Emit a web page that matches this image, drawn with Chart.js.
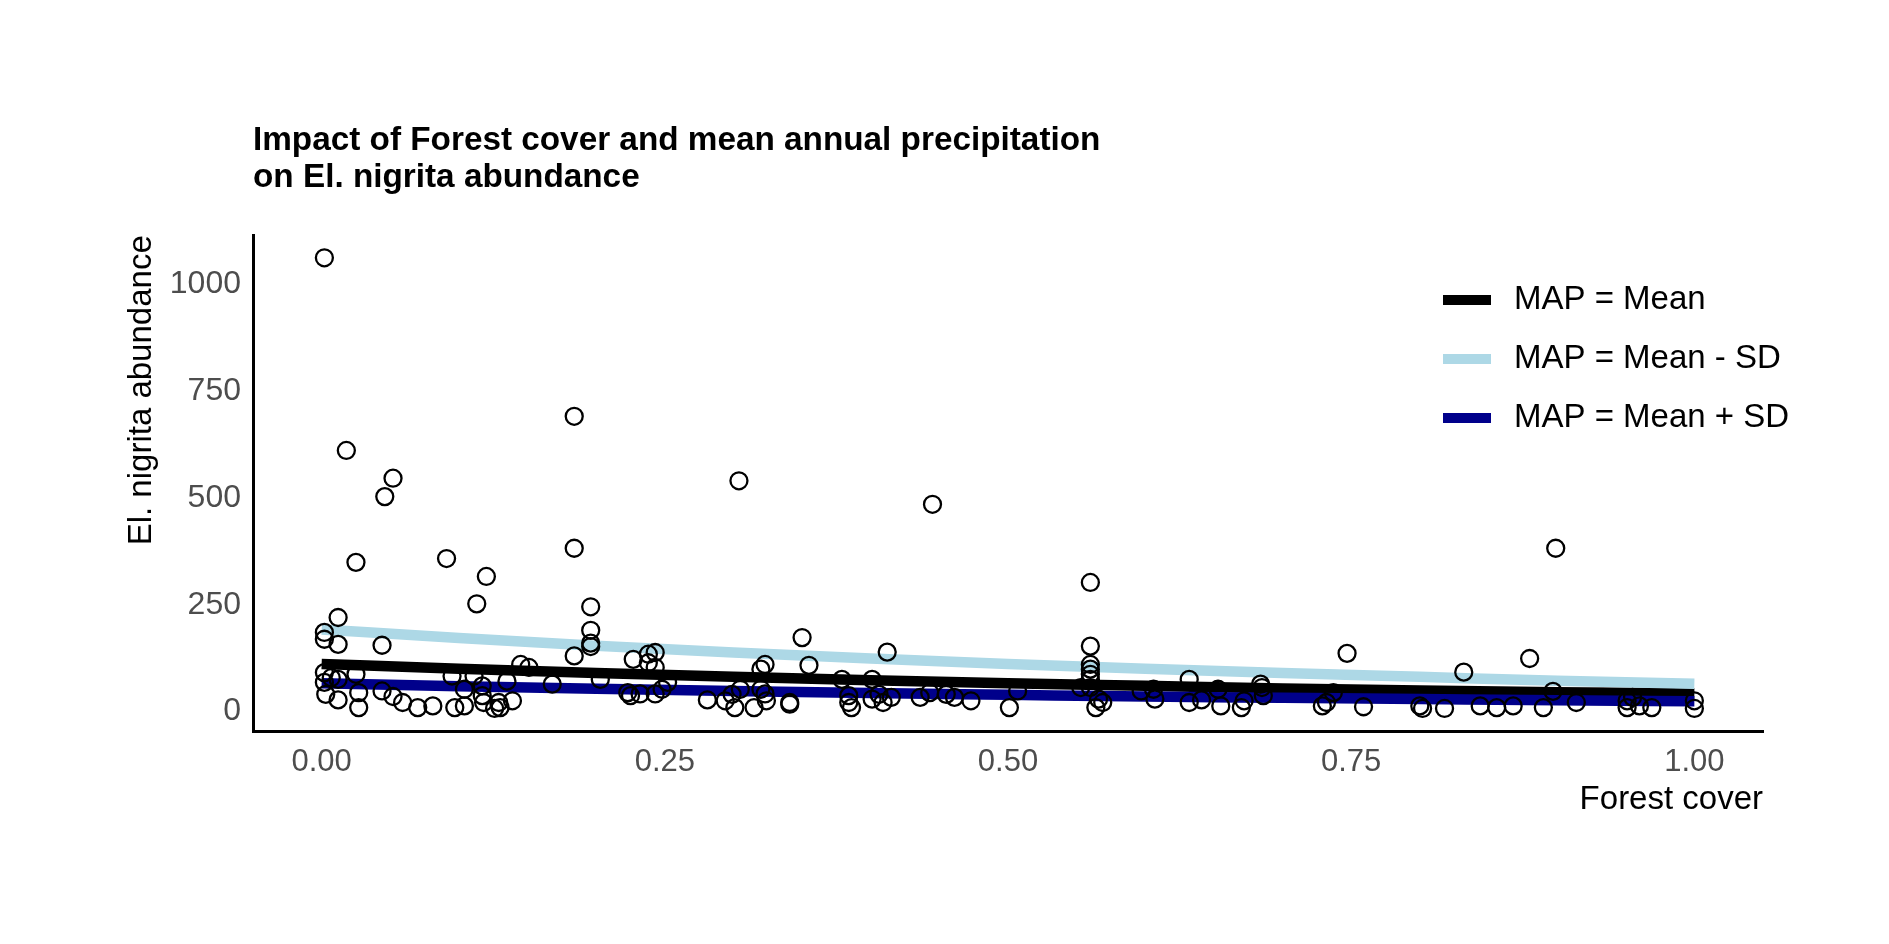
<!DOCTYPE html>
<html>
<head>
<meta charset="utf-8">
<script src="https://cdn.jsdelivr.net/npm/chart.js@4.4.0/dist/chart.umd.min.js"></script>
<style>
  html, body { margin: 0; padding: 0; background: #ffffff; }
  #wrap { width: 1889px; height: 944px; }
</style>
</head>
<body>
<div id="wrap"><canvas id="c" width="1889" height="944"></canvas></div>
<script>
// ---------- data ----------
const titleLines = ["Impact of Forest cover and mean annual precipitation", "on El. nigrita abundance"];
const xTitle = "Forest cover";
const yTitle = "El. nigrita abundance";
const seriesLabels = ["MAP = Mean", "MAP = Mean - SD", "MAP = Mean + SD"];
const seriesColors = ["#000000", "#ADD8E6", "#00008B"];

const xTicks = [0, 0.25, 0.5, 0.75, 1];
const yTicks = [0, 250, 500, 750, 1000];

// predicted curves
const lineX = [0, 0.1, 0.2, 0.3, 0.4, 0.5, 0.6, 0.7, 0.8, 0.9, 1.0];
const meanY = [104, 93, 83, 74, 66, 59, 53, 47, 42, 38, 35];
const lowY  = [185, 165, 147, 131, 117, 104, 93, 83, 74, 65, 58];
const highY = [59, 52, 46, 41, 36, 32, 28, 25, 22, 19, 17];

// observed points
const pointX = [
  0.002, 0.018, 0.052, 0.046, 0.025, 0.091, 0.120, 0.113, 0.184, 0.184,
  0.196, 0.196, 0.196, 0.196, 0.304, 0.445, 0.560, 0.899, 0.012, 0.002,
  0.002, 0.012, 0.044, 0.184, 0.145, 0.151, 0.168, 0.203, 0.227, 0.238,
  0.243, 0.243, 0.238, 0.350, 0.355, 0.412, 0.560, 0.560, 0.560, 0.560,
  0.560, 0.747, 0.832, 0.880,
  0.002, 0.002, 0.007, 0.012, 0.003, 0.012, 0.025, 0.027, 0.027, 0.044,
  0.052, 0.059, 0.070, 0.081, 0.095, 0.097, 0.104, 0.104, 0.111, 0.117,
  0.117, 0.118, 0.126, 0.130, 0.129, 0.139, 0.135,
  0.223, 0.225, 0.232, 0.243, 0.252, 0.248, 0.281, 0.294, 0.299, 0.301,
  0.305, 0.315, 0.320, 0.323, 0.320, 0.323, 0.324, 0.341, 0.341, 0.379,
  0.384, 0.384, 0.386, 0.401, 0.401,
  0.406, 0.409, 0.415, 0.436, 0.443, 0.455, 0.461, 0.473, 0.501, 0.507,
  0.553, 0.560, 0.566, 0.564, 0.569, 0.597, 0.606, 0.607,
  0.632, 0.632, 0.641, 0.653, 0.655, 0.670, 0.672, 0.684, 0.685, 0.686,
  0.729, 0.732, 0.737, 0.759, 0.800, 0.802, 0.818,
  0.844, 0.856, 0.868, 0.890, 0.897, 0.914, 0.951, 0.951, 0.955, 0.960,
  0.969, 1.000, 1.000
];
const pointY = [
  1055, 604, 539, 496, 342, 351, 309, 245, 684, 375,
  238, 183, 153, 145, 533, 478, 295, 375, 213, 178,
  162, 150, 148, 123, 103, 96, 57, 68, 115, 127,
  131, 96, 107, 166, 101, 132, 146, 103, 92, 80,
  68, 129, 85, 117,
  84, 61, 72, 68, 33, 20, 80, 37, 2, 41,
  28, 14, 2, 6, 76, 2, 6, 45, 76, 53,
  30, 14, 0, 2, 14, 18, 64,
  37, 30, 34, 34, 61, 45, 20, 18, 33, 2,
  45, 2, 92, 103, 45, 34, 18, 10, 14, 68,
  30, 14, 2, 68, 22,
  33, 14, 26, 26, 37, 33, 26, 18, 2, 41,
  49, 49, 22, 2, 14, 41, 45, 22,
  68, 14, 20, 45, 6, 2, 18, 57, 49, 30,
  6, 14, 37, 4, 6, 0, 0,
  6, 2, 6, 2, 40, 14, 2, 18, 26, 6,
  2, 18, 0
];

// ---------- chart ----------
const FONT = "'Liberation Sans', Arial, 'DejaVu Sans', sans-serif";
Chart.defaults.font.family = FONT;
Chart.defaults.devicePixelRatio = 1;

const toXY = (xs, ys) => xs.map((x, i) => ({ x: x, y: ys[i] }));

const legendPlugin = {
  id: 'insideLegend',
  afterDraw(chart) {
    const ctx = chart.ctx;
    const keyX = 1443, keyW = 48, keyH = 10, textX = 1514;
    const rows = [300, 359, 418];
    ctx.save();
    ctx.font = "33px " + FONT;
    ctx.textBaseline = 'middle';
    ctx.textAlign = 'left';
    for (let i = 0; i < seriesLabels.length; i++) {
      ctx.fillStyle = seriesColors[i];
      ctx.fillRect(keyX, rows[i] - keyH / 2, keyW, keyH);
      ctx.fillStyle = '#000000';
      ctx.fillText(seriesLabels[i], textX, rows[i]);
    }
    ctx.restore();
  }
};

new Chart(document.getElementById('c'), {
  type: 'scatter',
  data: {
    datasets: [
      {
        label: 'points',
        data: toXY(pointX, pointY),
        pointRadius: 8.5,
        pointBorderWidth: 2.3,
        pointBorderColor: '#000000',
        pointBackgroundColor: 'rgba(0,0,0,0)',
        showLine: false,
        order: 0
      },
      {
        label: seriesLabels[0],
        data: toXY(lineX, meanY),
        showLine: true,
        borderColor: seriesColors[0],
        borderWidth: 10.5,
        pointRadius: 0,
        cubicInterpolationMode: 'monotone',
        order: 3
      },
      {
        label: seriesLabels[1],
        data: toXY(lineX, lowY),
        showLine: true,
        borderColor: seriesColors[1],
        borderWidth: 10.5,
        pointRadius: 0,
        cubicInterpolationMode: 'monotone',
        order: 2
      },
      {
        label: seriesLabels[2],
        data: toXY(lineX, highY),
        showLine: true,
        borderColor: seriesColors[2],
        borderWidth: 10.5,
        pointRadius: 0,
        cubicInterpolationMode: 'monotone',
        order: 1
      }
    ]
  },
  options: {
    responsive: false,
    animation: false,
    events: [],
    layout: { padding: { top: 123, left: 122, right: 126, bottom: 124 } },
    plugins: {
      legend: { display: false },
      tooltip: { enabled: false },
      title: {
        display: true,
        text: titleLines,
        align: 'start',
        fullSize: false,
        color: '#000000',
        font: { family: FONT, size: 33.3, weight: 'bold', lineHeight: 1.1 },
        padding: { top: 0, bottom: 39 }
      }
    },
    scales: {
      x: {
        type: 'linear',
        min: -0.05,
        max: 1.05,
        afterBuildTicks: s => { s.ticks = xTicks.map(v => ({ value: v })); },
        afterFit: s => { s.height = 89; },
        grid: { display: false },
        border: { display: true, color: '#000000', width: 3 },
        ticks: {
          color: '#4D4D4D',
          font: { size: 31 },
          padding: 5,
          maxRotation: 0,
          callback: v => Number(v).toFixed(2)
        },
        title: {
          display: true,
          text: xTitle,
          align: 'end',
          color: '#000000',
          font: { size: 33 },
          padding: 0
        }
      },
      y: {
        type: 'linear',
        min: -52.75,
        max: 1107.75,
        afterBuildTicks: s => { s.ticks = yTicks.map(v => ({ value: v })); },
        afterFit: s => { s.width = 131; },
        grid: { display: false },
        border: { display: true, color: '#000000', width: 3 },
        ticks: {
          color: '#4D4D4D',
          font: { size: 32 },
          padding: 4,
          labelOffset: 3,
          callback: v => String(v)
        },
        title: {
          display: true,
          text: yTitle,
          align: 'end',
          color: '#000000',
          font: { size: 33 },
          padding: 0
        }
      }
    }
  },
  plugins: [legendPlugin]
});
</script>
</body>
</html>
